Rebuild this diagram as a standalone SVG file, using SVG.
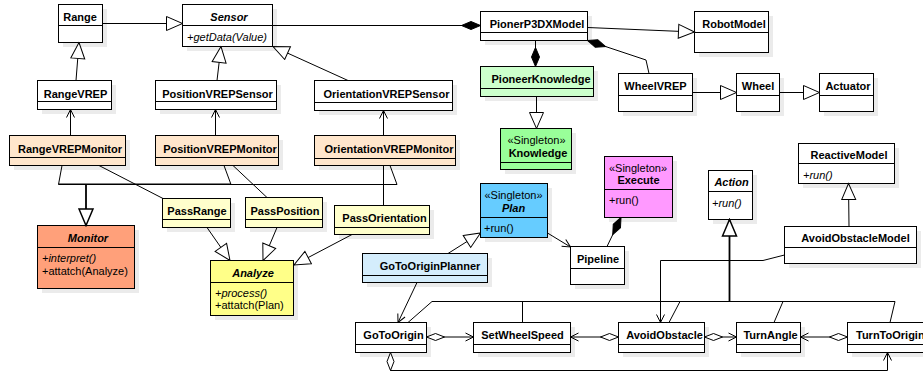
<svg xmlns="http://www.w3.org/2000/svg" width="923" height="373" viewBox="0 0 923 373">
<style>
.bx{stroke:#000;stroke-width:1}
.sh{fill:#ebebeb}
.dv{stroke:#000;stroke-width:1}
.n{font-family:"Liberation Sans",Arial,sans-serif;font-size:11px;font-weight:bold;text-anchor:middle;fill:#000}
.s{font-family:"Liberation Sans",Arial,sans-serif;font-size:11px;text-anchor:middle;fill:#000}
.a{font-family:"Liberation Sans",Arial,sans-serif;font-size:11px;fill:#000}
.i{font-style:italic}
.c{fill:none;stroke:#000;stroke-width:1}
.k{fill:none;stroke:#000;stroke-width:1.8}
</style>
<defs>
<marker id="gen" markerUnits="userSpaceOnUse" viewBox="0 0 18 16" markerWidth="18" markerHeight="16" refX="17" refY="8" orient="auto"><path d="M1,1 L17,8 L1,15 Z" fill="#fff" stroke="#000" stroke-width="1"/></marker>
<marker id="gen2" markerUnits="userSpaceOnUse" viewBox="0 0 19 17" markerWidth="19" markerHeight="17" refX="17.5" refY="8.5" orient="auto"><path d="M1,1.5 L17.5,8.5 L1,15.5 Z" fill="#fff" stroke="#000" stroke-width="1.5"/></marker>
<marker id="open" markerUnits="userSpaceOnUse" viewBox="0 0 10 10" markerWidth="10" markerHeight="10" refX="9" refY="5" orient="auto"><path d="M1,1 L9,5 L1,9" fill="none" stroke="#000" stroke-width="1"/></marker>
<marker id="comp" markerUnits="userSpaceOnUse" viewBox="0 0 22 10" markerWidth="22" markerHeight="10" refX="1" refY="5" orient="auto"><path d="M1,5 L10.5,1 L20,5 L10.5,9 Z" fill="#000" stroke="#000" stroke-width="1"/></marker>
<marker id="agg" markerUnits="userSpaceOnUse" viewBox="0 0 22 10" markerWidth="22" markerHeight="10" refX="1" refY="5" orient="auto"><path d="M1,5 L10,1.5 L19,5 L10,8.5 Z" fill="#fff" stroke="#000" stroke-width="1"/></marker>
</defs>
<rect width="923" height="373" fill="#fff"/>

<g id="Range"><rect class="sh" x="63" y="9" width="44" height="38"/><rect class="bx" x="58.5" y="4.5" width="44" height="38" fill="#fff"/><line class="dv" x1="58.5" y1="25.5" x2="102.5" y2="25.5"/><text class="n" x="80" y="21">Range</text></g>
<g id="Sensor"><rect class="sh" x="187" y="9" width="90" height="42"/><rect class="bx" x="182.5" y="4.5" width="90" height="42" fill="#fff"/><line class="dv" x1="182.5" y1="25.5" x2="272.5" y2="25.5"/><text class="n i" x="229" y="21">Sensor</text><text class="a i" x="187" y="40.5">+getData(Value)</text></g>
<g id="PionerP3DXModel"><rect class="sh" x="485" y="16" width="107" height="29"/><rect class="bx" x="480.5" y="11.5" width="107" height="29" fill="#fff"/><line class="dv" x1="480.5" y1="32.5" x2="587.5" y2="32.5"/><text class="n" x="537" y="28.3">PionerP3DXModel</text></g>
<g id="RobotModel"><rect class="sh" x="699" y="16" width="74" height="41"/><rect class="bx" x="694.5" y="11.5" width="74" height="41" fill="#fff"/><line class="dv" x1="694.5" y1="32.5" x2="768.5" y2="32.5"/><text class="n" x="734" y="28.3">RobotModel</text></g>
<g id="PioneerKnowledge"><rect class="sh" x="485" y="71" width="113" height="30"/><rect class="bx" x="480.5" y="66.5" width="113" height="30" fill="#ccffcc"/><line class="dv" x1="480.5" y1="88.5" x2="593.5" y2="88.5"/><text class="n" x="541" y="83.3">PioneerKnowledge</text></g>
<g id="WheelVREP"><rect class="sh" x="623" y="78" width="74" height="38"/><rect class="bx" x="618.5" y="73.5" width="74" height="38" fill="#fff"/><line class="dv" x1="618.5" y1="95.5" x2="692.5" y2="95.5"/><text class="n" x="655.5" y="90">WheelVREP</text></g>
<g id="Wheel"><rect class="sh" x="741" y="78" width="43" height="38"/><rect class="bx" x="736.5" y="73.5" width="43" height="38" fill="#fff"/><line class="dv" x1="736.5" y1="95.5" x2="779.5" y2="95.5"/><text class="n" x="758" y="90">Wheel</text></g>
<g id="Actuator"><rect class="sh" x="824" y="78" width="54" height="38"/><rect class="bx" x="819.5" y="73.5" width="54" height="38" fill="#fff"/><line class="dv" x1="819.5" y1="95.5" x2="873.5" y2="95.5"/><text class="n" x="848" y="90">Actuator</text></g>
<g id="RangeVREP"><rect class="sh" x="42" y="85" width="74" height="29"/><rect class="bx" x="37.5" y="80.5" width="74" height="29" fill="#fff"/><line class="dv" x1="37.5" y1="101.5" x2="111.5" y2="101.5"/><text class="n" x="75.5" y="97.5">RangeVREP</text></g>
<g id="PositionVREPSensor"><rect class="sh" x="160" y="85" width="121" height="29"/><rect class="bx" x="155.5" y="80.5" width="121" height="29" fill="#fff"/><line class="dv" x1="155.5" y1="101.5" x2="276.5" y2="101.5"/><text class="n" x="217.5" y="97.5">PositionVREPSensor</text></g>
<g id="OrientationVREPSensor"><rect class="sh" x="319" y="85" width="138" height="30"/><rect class="bx" x="314.5" y="80.5" width="138" height="30" fill="#fff"/><line class="dv" x1="314.5" y1="102.5" x2="452.5" y2="102.5"/><text class="n" x="386.5" y="97.5">OrientationVREPSensor</text></g>
<g id="Knowledge"><rect class="sh" x="505" y="133" width="71" height="41"/><rect class="bx" x="500.5" y="128.5" width="71" height="41" fill="#99ff99"/><line class="dv" x1="500.5" y1="162.5" x2="571.5" y2="162.5"/><text class="s" x="536.5" y="144">«Singleton»</text><text class="n" x="538" y="156.5">Knowledge</text></g>
<g id="RangeVREPMonitor"><rect class="sh" x="14" y="140" width="116" height="30"/><rect class="bx" x="9.5" y="135.5" width="116" height="30" fill="#ffe6cc"/><line class="dv" x1="9.5" y1="157.5" x2="125.5" y2="157.5"/><text class="n" x="70" y="152.5">RangeVREPMonitor</text></g>
<g id="PositionVREPMonitor"><rect class="sh" x="160" y="140" width="123" height="30"/><rect class="bx" x="155.5" y="135.5" width="123" height="30" fill="#ffe6cc"/><line class="dv" x1="155.5" y1="157.5" x2="278.5" y2="157.5"/><text class="n" x="220" y="152.5">PositionVREPMonitor</text></g>
<g id="OrientationVREPMonitor"><rect class="sh" x="319" y="140" width="141" height="30"/><rect class="bx" x="314.5" y="135.5" width="141" height="30" fill="#ffe6cc"/><line class="dv" x1="314.5" y1="158.5" x2="455.5" y2="158.5"/><text class="n" x="389" y="152.5">OrientationVREPMonitor</text></g>
<g id="ReactiveModel"><rect class="sh" x="803" y="148" width="96" height="40"/><rect class="bx" x="798.5" y="143.5" width="96" height="40" fill="#fff"/><line class="dv" x1="798.5" y1="163.5" x2="894.5" y2="163.5"/><text class="n" x="849" y="158.5">ReactiveModel</text><text class="a i" x="803" y="179">+run()</text></g>
<g id="Execute"><rect class="sh" x="609" y="161" width="68" height="61"/><rect class="bx" x="604.5" y="156.5" width="68" height="61" fill="#ff99ff"/><line class="dv" x1="604.5" y1="189.5" x2="672.5" y2="189.5"/><text class="s" x="638" y="172">«Singleton»</text><text class="n" x="638.5" y="184.3">Execute</text><text class="a" x="609" y="203.5">+run()</text></g>
<g id="Action"><rect class="sh" x="713" y="175" width="44" height="49"/><rect class="bx" x="708.5" y="170.5" width="44" height="49" fill="#fff"/><line class="dv" x1="708.5" y1="191.5" x2="752.5" y2="191.5"/><text class="n i" x="731.5" y="186.3">Action</text><text class="a i" x="712" y="206.5">+run()</text></g>
<g id="Plan"><rect class="sh" x="485" y="188" width="67" height="54"/><rect class="bx" x="480.5" y="183.5" width="67" height="54" fill="#66ccff"/><line class="dv" x1="480.5" y1="217.5" x2="547.5" y2="217.5"/><text class="s" x="513.5" y="199">«Singleton»</text><text class="n i" x="513.5" y="211.5">Plan</text><text class="a" x="484" y="231.5">+run()</text></g>
<g id="PassRange"><rect class="sh" x="167" y="203" width="68" height="29"/><rect class="bx" x="162.5" y="198.5" width="68" height="29" fill="#ffffcc"/><line class="dv" x1="162.5" y1="219.5" x2="230.5" y2="219.5"/><text class="n" x="197" y="215">PassRange</text></g>
<g id="PassPosition"><rect class="sh" x="250" y="202" width="77" height="30"/><rect class="bx" x="245.5" y="197.5" width="77" height="30" fill="#ffffcc"/><line class="dv" x1="245.5" y1="219.5" x2="322.5" y2="219.5"/><text class="n" x="285" y="215">PassPosition</text></g>
<g id="PassOrientation"><rect class="sh" x="339" y="210" width="95" height="29"/><rect class="bx" x="334.5" y="205.5" width="95" height="29" fill="#ffffcc"/><line class="dv" x1="334.5" y1="227.5" x2="429.5" y2="227.5"/><text class="n" x="384.5" y="222.3">PassOrientation</text></g>
<g id="Monitor"><rect class="sh" x="42" y="230" width="97" height="63"/><rect class="bx" x="37.5" y="225.5" width="97" height="63" fill="#ffa07a"/><line class="dv" x1="37.5" y1="247.5" x2="134.5" y2="247.5"/><text class="n i" x="88" y="241.7">Monitor</text><text class="a i" x="42" y="261.7">+interpret()</text><text class="a" x="42" y="275">+attatch(Analyze)</text></g>
<g id="AvoidObstacleModel"><rect class="sh" x="789" y="231" width="132" height="37"/><rect class="bx" x="784.5" y="226.5" width="132" height="37" fill="#fff"/><line class="dv" x1="784.5" y1="247.5" x2="916.5" y2="247.5"/><text class="n" x="855.5" y="241.7">AvoidObstacleModel</text></g>
<g id="Pipeline"><rect class="sh" x="575" y="251" width="54" height="38"/><rect class="bx" x="570.5" y="246.5" width="54" height="38" fill="#fff"/><line class="dv" x1="570.5" y1="268.5" x2="624.5" y2="268.5"/><text class="n" x="598" y="262.7">Pipeline</text></g>
<g id="GoToOriginPlanner"><rect class="sh" x="367" y="258" width="125" height="29"/><rect class="bx" x="362.5" y="253.5" width="125" height="29" fill="#d4edfc"/><line class="dv" x1="362.5" y1="275.5" x2="487.5" y2="275.5"/><text class="n" x="430" y="270.3">GoToOriginPlanner</text></g>
<g id="Analyze"><rect class="sh" x="215" y="265" width="83" height="55"/><rect class="bx" x="210.5" y="260.5" width="83" height="55" fill="#ffff88"/><line class="dv" x1="210.5" y1="282.5" x2="293.5" y2="282.5"/><text class="n i" x="253" y="276.7">Analyze</text><text class="a i" x="215" y="296.7">+process()</text><text class="a" x="215" y="309">+attatch(Plan)</text></g>
<g id="GoToOrigin"><rect class="sh" x="360" y="327" width="71" height="30"/><rect class="bx" x="355.5" y="322.5" width="71" height="30" fill="#fff"/><line class="dv" x1="355.5" y1="344.5" x2="426.5" y2="344.5"/><text class="n" x="393.5" y="338.7">GoToOrigin</text></g>
<g id="SetWheelSpeed"><rect class="sh" x="478" y="327" width="97" height="30"/><rect class="bx" x="473.5" y="322.5" width="97" height="30" fill="#fff"/><line class="dv" x1="473.5" y1="344.5" x2="570.5" y2="344.5"/><text class="n" x="522.5" y="338.7">SetWheelSpeed</text></g>
<g id="AvoidObstacle"><rect class="sh" x="623" y="327" width="86" height="30"/><rect class="bx" x="618.5" y="322.5" width="86" height="30" fill="#fff"/><line class="dv" x1="618.5" y1="344.5" x2="704.5" y2="344.5"/><text class="n" x="664.5" y="338.7">AvoidObstacle</text></g>
<g id="TurnAngle"><rect class="sh" x="741" y="327" width="64" height="30"/><rect class="bx" x="736.5" y="322.5" width="64" height="30" fill="#fff"/><line class="dv" x1="736.5" y1="344.5" x2="800.5" y2="344.5"/><text class="n" x="770.5" y="338.7">TurnAngle</text></g>
<g id="TurnToOrigin"><rect class="sh" x="852" y="327" width="90" height="30"/><rect class="bx" x="847.5" y="322.5" width="90" height="30" fill="#fff"/><line class="dv" x1="847.5" y1="344.5" x2="937.5" y2="344.5"/><text class="n" x="856" y="338.7" style="text-anchor:start">TurnToOrigin</text></g>

<g id="connectors">
<path class="c" d="M102.5,23.5 L182.5,23.5" marker-end="url(#gen)"/>
<path class="c" d="M480.5,25.5 L272.5,25.5" marker-start="url(#comp)"/>
<path class="c" d="M587.5,27.5 L694.5,32" marker-end="url(#gen)"/>
<path class="c" d="M587.5,40.5 L646,60 L649,73.5" marker-start="url(#comp)"/>
<path class="c" d="M535.5,66.5 L535.5,40.5" marker-start="url(#comp)"/>
<path class="c" d="M536.5,96.5 L536.5,128.5" marker-end="url(#gen)"/>
<path class="c" d="M692.5,92.5 L736.5,92.5" marker-end="url(#gen)"/>
<path class="c" d="M779.5,92.5 L819.5,92.5" marker-end="url(#gen)"/>
<path class="c" d="M76,80.5 L79,42.5" marker-end="url(#gen)"/>
<path class="c" d="M217,80.5 L221,46.5" marker-end="url(#gen)"/>
<path class="c" d="M348,80.5 L273,46.5" marker-end="url(#gen)"/>
<path class="c" d="M70.5,135.5 L70.5,109.5" marker-end="url(#open)"/>
<path class="c" d="M215.5,135.5 L215.5,109.5" marker-end="url(#open)"/>
<path class="c" d="M383.5,135.5 L383.5,110.5" marker-end="url(#open)"/>
<path class="c" d="M62,165.5 L58.5,184.5 L397,184.5 L390,165.5"/>
<path class="c" d="M224,165.5 L231,184.5"/>
<path class="c" d="M58.5,184 L231,184"/>
<path class="k" d="M86,184.5 L86,225.5" marker-end="url(#gen2)"/>
<path class="c" d="M99,165.5 L163,198.5"/>
<path class="c" d="M233,165.5 L267,197.5"/>
<path class="c" d="M383.5,165.5 L383.5,205.5"/>
<path class="c" d="M207,227.5 L230,260.5" marker-end="url(#gen)"/>
<path class="c" d="M277,227.5 L263,260.5" marker-end="url(#gen)"/>
<path class="c" d="M352,234.5 L294,265" marker-end="url(#gen)"/>
<path class="c" d="M547.5,233 L570.5,247" marker-end="url(#open)"/>
<path class="c" d="M621,217.5 L607,246.5" marker-start="url(#comp)"/>
<path class="c" d="M448,253.5 L480.5,233" marker-end="url(#gen)"/>
<path class="c" d="M417,282.5 L398,322.5" marker-end="url(#open)"/>
<path class="c" d="M408,322.5 L432,301.5 L895,301.5 L890,322.5"/>
<path class="c" d="M522.5,301.5 L522.5,322.5"/>
<path class="c" d="M669,322.5 L680,301.5"/>
<path class="c" d="M774,322.5 L783,301.5"/>
<path class="k" d="M729.5,301.5 L729.5,219.5" marker-end="url(#gen2)"/>
<path class="c" d="M849,226.5 L848.5,183.5" marker-end="url(#gen)"/>
<path class="c" d="M784.5,255 L763,260.5 L660.5,260.5 L660.5,322.5" marker-end="url(#open)"/>
<path class="c" d="M426.5,337 L473.5,337" marker-start="url(#agg)" marker-end="url(#open)"/>
<path class="c" d="M618.5,337 L570.5,337" marker-start="url(#agg)" marker-end="url(#open)"/>
<path class="c" d="M704.5,337 L736.5,337" marker-start="url(#agg)" marker-end="url(#open)"/>
<path class="c" d="M847.5,337 L800.5,337" marker-start="url(#agg)" marker-end="url(#open)"/>
<path class="c" d="M390.5,352.5 L390.5,370.5 L887.5,370.5 L887.5,352.5" marker-start="url(#agg)" marker-end="url(#open)"/>
</g>
</svg>
